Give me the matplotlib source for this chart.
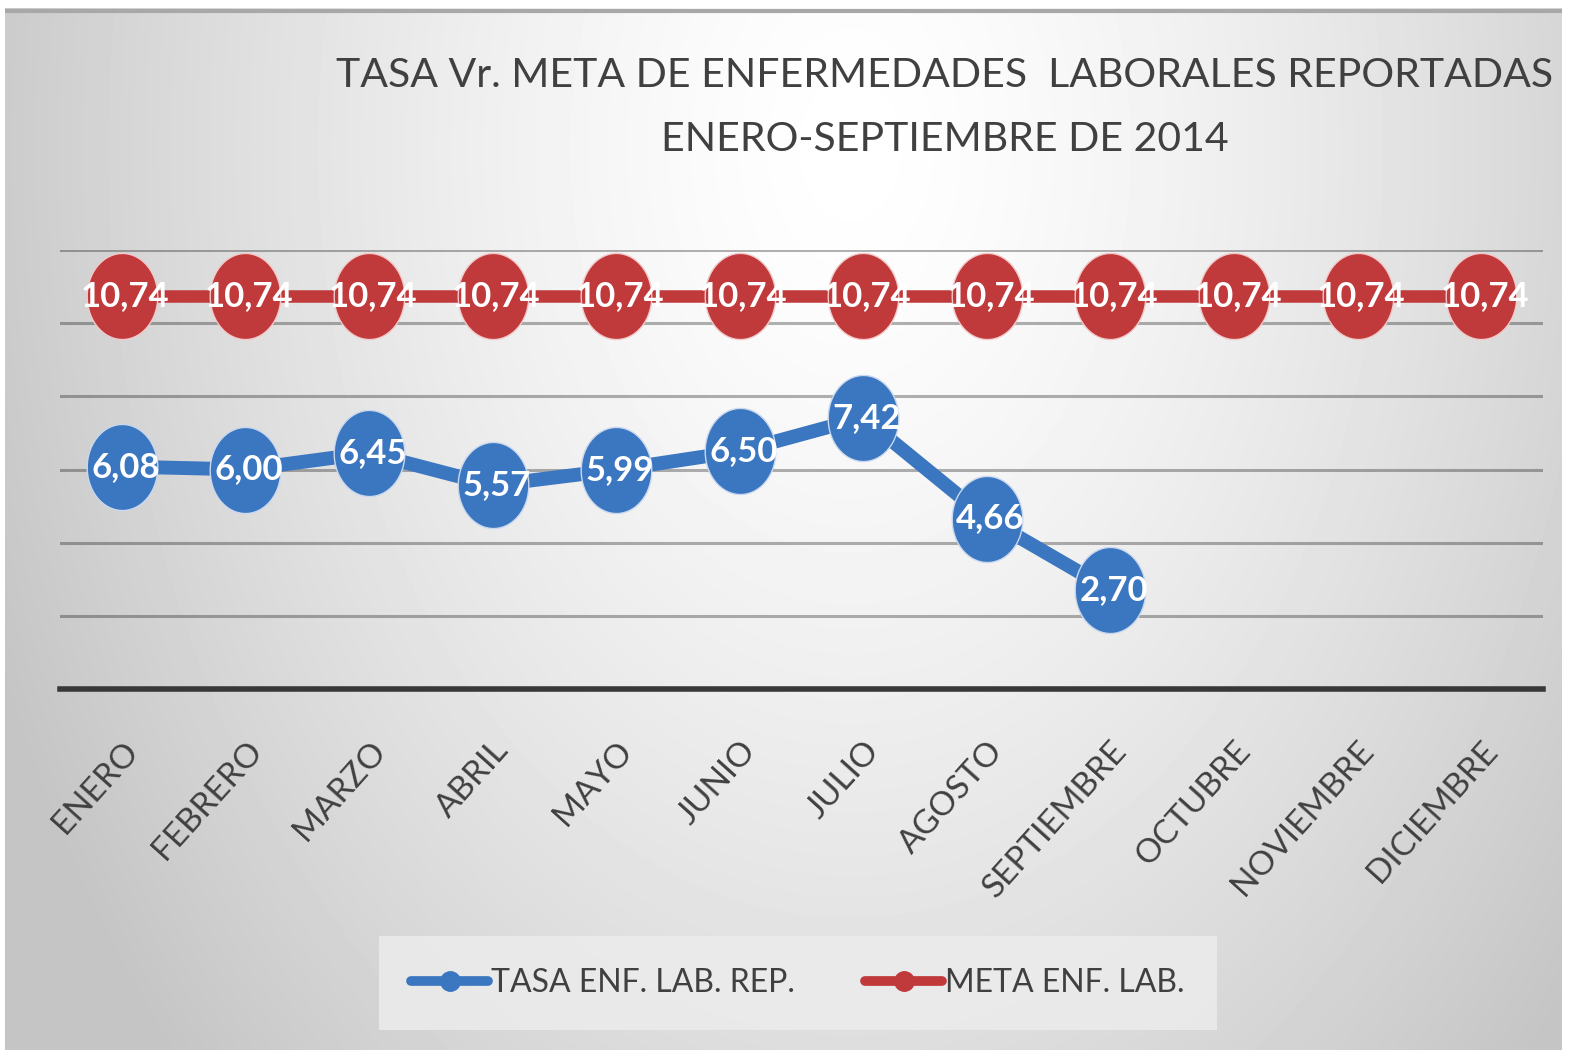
import numpy as np
import matplotlib
matplotlib.use('Agg')
import matplotlib.pyplot as plt
from matplotlib.path import Path

plt.rcParams['font.family'] = ['Lato', 'DejaVu Sans']

##########
# DATA
##########

months = ['ENERO', 'FEBRERO', 'MARZO', 'ABRIL', 'MAYO', 'JUNIO', 'JULIO',
          'AGOSTO', 'SEPTIEMBRE', 'OCTUBRE', 'NOVIEMBRE', 'DICIEMBRE']
tasa = [6.08, 6.00, 6.45, 5.57, 5.99, 6.50, 7.42, 4.66, 2.70]
meta = [10.74] * 12

tasa_label = 'TASA ENF. LAB. REP.'
meta_label = 'META ENF. LAB.'
title = 'TASA Vr. META DE ENFERMEDADES  LABORALES REPORTADAS\nENERO-SEPTIEMBRE DE 2014'

blue = '#3b76c0'
red = '#c0393b'
grey_text = '#404040'

##########
# FIGURE + GRADIENT BACKGROUND
##########

fig = plt.figure(figsize=(15.75, 10.55), dpi=100)
fig.patch.set_facecolor('white')

bg = fig.add_axes([5 / 1575, 5 / 1055, 1557 / 1575, 1042 / 1055])
bg.set_axis_off()
yy, xx = np.mgrid[0:1042, 0:1557]
d = np.sqrt(((xx - 845) / 900.0) ** 2 + ((yy - 140) / 1300.0) ** 2)
shade = np.clip(1 - 0.22 * d ** 1.4, 0.77, 1)
bg.imshow(shade, cmap='gray', vmin=0, vmax=1, aspect='auto', interpolation='bilinear')
# darker strip along the top edge of the frame
bg.axhline(2, color='#a8a8a8', lw=3)

##########
# MAIN PLOT
##########

ax = fig.add_axes([60 / 1575, 366 / 1055, 1483 / 1575, 439 / 1055])
ax.patch.set_alpha(0)

x_all = np.arange(len(months))
x_tasa = np.arange(len(tasa))

# slightly tall ellipse marker
t = np.linspace(0, 2 * np.pi, 60)
ell = Path(np.column_stack([0.82 * np.cos(t), np.sin(t)]), closed=True)

ax.plot(x_all, meta, color=red, lw=9, marker=ell, markersize=62,
        markerfacecolor=red, markeredgecolor='#f2c9c9', markeredgewidth=1, zorder=3)
ax.plot(x_tasa, tasa, color=blue, lw=10, marker=ell, markersize=62,
        markerfacecolor=blue, markeredgecolor='#c9d8ee', markeredgewidth=1, zorder=3)

for xi, v in zip(x_all, meta):
    ax.text(xi + 0.03, v, f'{v:.2f}'.replace('.', ','), color='white', fontsize=25,
            fontweight='bold', ha='center', va='center', zorder=5)
for xi, v in zip(x_tasa, tasa):
    ax.text(xi + 0.03, v, f'{v:.2f}'.replace('.', ','), color='white', fontsize=25,
            fontweight='bold', ha='center', va='center', zorder=5)

ax.set_xlim(-0.5, len(months) - 0.5)
ax.set_ylim(0, 12)
ax.set_yticks(np.arange(2, 13, 2))
ax.yaxis.grid(True, color='black', alpha=0.3, lw=2.2)
ax.tick_params(axis='y', left=False, labelleft=False)
ax.set_axisbelow(True)

for s in ['top', 'right', 'left']:
    ax.spines[s].set_visible(False)
ax.spines['bottom'].set_color('#383838')
ax.spines['bottom'].set_linewidth(4)

ax.set_xticks(x_all)
ax.set_xticklabels(months, rotation=48, ha='right', rotation_mode='anchor',
                   fontsize=24, color=grey_text)
ax.tick_params(axis='x', bottom=False, pad=30)

##########
# TITLE + LEGEND
##########

fig.text(945 / 1575, 1 - 57 / 1055, title, ha='center', va='top', fontsize=29.5,
         color=grey_text, linespacing=1.9)

h1, = ax.plot([], [], color=blue, lw=7, marker='o', markersize=14, solid_capstyle='round')
h2, = ax.plot([], [], color=red, lw=7, marker='o', markersize=14, solid_capstyle='round')
leg = fig.legend([h1, h2], [tasa_label, meta_label], loc='center',
                 bbox_to_anchor=(798 / 1575, 1 - 983 / 1055), ncol=2, fontsize=23,
                 frameon=True, fancybox=False, handlelength=2.4, handletextpad=0.1,
                 columnspacing=2.2, borderpad=1.0)
leg.get_frame().set_facecolor('#ececec')
leg.get_frame().set_alpha(0.85)
leg.get_frame().set_edgecolor('none')
for txt in leg.get_texts():
    txt.set_color(grey_text)

plt.savefig('out.png', dpi=100)
